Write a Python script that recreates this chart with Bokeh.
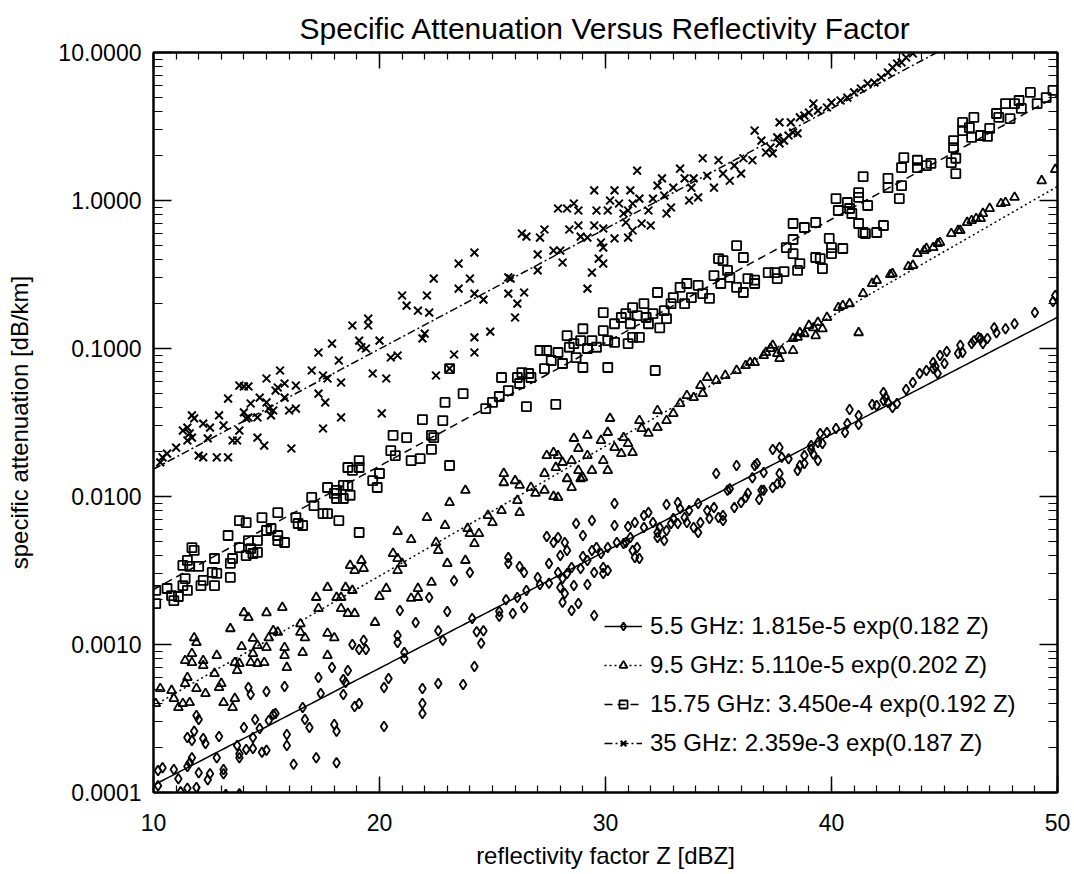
import numpy as np
from bokeh.plotting import figure
from bokeh.models import (Range1d, LinearAxis, LogAxis, FixedTicker,
                          PrintfTickFormatter, Legend, LegendItem,
                          CustomJSTickFormatter)
from bokeh.embed import file_html
from bokeh.resources import INLINE

# ---------------- data ----------------
title_text = "Specific Attenuation Versus Reflectivity Factor"
x_label = "reflectivity factor Z [dBZ]"
y_label = "specific attenuation [dB/km]"

series_names = ["5.5 GHz", "9.5 GHz", "15.75 GHz", "35 GHz"]
fit_a = [1.815e-5, 5.110e-5, 3.450e-4, 2.359e-3]
fit_b = [0.182, 0.202, 0.192, 0.187]
legend_labels = ["5.5 GHz: 1.815e-5 exp(0.182 Z)",
                 "9.5 GHz: 5.110e-5 exp(0.202 Z)",
                 "15.75 GHz: 3.450e-4 exp(0.192 Z)",
                 "35 GHz: 2.359e-3 exp(0.187 Z)"]

x_ticks = [10, 20, 30, 40, 50]
x_minor = [v for v in range(10, 51)]
y_ticks = [1e-4, 1e-3, 1e-2, 1e-1, 1.0, 10.0]
y_minor = [m * 10.0 ** e for e in range(-4, 1) for m in range(1, 10)]

# (Z [dBZ], attenuation [dB/km])
pts_55 = [(10.2,1.11e-4),(10.2,1.41e-4),(10.4,1.47e-4),(10.9,1.43e-4),(11.1,1.24e-4),(11.2,1.01e-4),(11.5,1.07e-4),(11.9,1.08e-4),(11.5,1.50e-4),(11.6,1.59e-4),(11.7,1.72e-4),(11.5,2.35e-4),(11.7,2.25e-4),(11.8,2.59e-4),(12.0,1.36e-4),(12.2,2.32e-4),(12.3,2.14e-4),(11.9,3.31e-4),(12.0,3.11e-4),(12.5,1.34e-4),(12.4,1.22e-4),(12.8,1.72e-4),(12.9,2.39e-4),(13.1,1.34e-4),(13.1,1.43e-4),(13.2,0.97e-4),(13.7,2.08e-4),(13.8,1.83e-4),(13.8,1.72e-4),(13.8,0.98e-4),(14.0,2.75e-4),(14.1,1.95e-4),(14.4,1.98e-4),(14.2,5.12e-4),(14.3,4.59e-4),(14.4,2.35e-4),(14.5,3.11e-4),(14.7,2.71e-4),(14.8,1.87e-4),(15.0,1.93e-4),(15.0,4.81e-4),(15.1,3.07e-4),(15.3,3.37e-4),(15.4,3.42e-4),(15.8,5.20e-4),(15.9,2.47e-4),(15.9,2.08e-4),(16.2,1.55e-4),(16.6,3.75e-4),(16.7,3.11e-4),(16.9,2.75e-4),(17.2,1.72e-4),(17.3,5.98e-4),(17.4,4.66e-4),(17.9,6.99e-4),(18.0,2.88e-4),(18.1,2.59e-4),(18.1,1.59e-4),(18.4,5.80e-4),(18.5,5.54e-4),(18.6,6.67e-4),(18.4,4.59e-4),(18.8,1.00e-3),(19.1,9.25e-4),(19.3,1.07e-3),(19.4,9.25e-4),(18.9,3.81e-4),(19.1,3.99e-4),(20.2,5.12e-4),(20.2,2.79e-4),(20.4,5.89e-4),(20.8,1.15e-3),(20.8,1.03e-3),(20.9,1.70e-3),(21.1,8.04e-4),(21.1,8.83e-4),(21.6,1.41e-3),(21.9,5.04e-4),(21.9,3.99e-4),(21.9,3.42e-4),(22.2,2.08e-3),(22.6,5.45e-4),(22.6,1.24e-3),(22.8,1.07e-3),(23.0,1.67e-3),
          (23.3,2.70e-3),(24.0,3.07e-3),(24.1,1.50e-3),(24.2,7.10e-4),(23.7,5.37e-4),(24.3,1.22e-3),(24.6,1.24e-3),(24.5,1.02e-3),(25.3,1.67e-3),(25.3,1.55e-3),(25.9,1.62e-3),(26.4,1.78e-3),(25.6,2.01e-3),(26.1,2.08e-3),(26.5,2.32e-3),(25.7,3.87e-3),(25.7,3.53e-3),(26.2,3.37e-3),(26.4,3.07e-3),(27.0,2.84e-3),(27.1,2.54e-3),(27.5,2.59e-3),(27.4,5.37e-3),(27.7,4.89e-3),(27.9,5.29e-3),(27.5,3.53e-3),(28.0,3.99e-3),(28.2,4.89e-3),(28.3,4.32e-3),(28.7,6.57e-3),(29.0,5.45e-3),(29.4,6.88e-3),(27.9,3.07e-3),(28.1,2.79e-3),(28.0,2.43e-3),(28.2,2.21e-3),(28.1,1.93e-3),(28.5,1.70e-3),(28.8,1.89e-3),(29.5,1.57e-3),(28.3,3.02e-3),(28.5,3.31e-3),(28.6,2.50e-3),(28.9,3.26e-3),(29.0,3.93e-3),(29.2,3.70e-3),(29.2,2.54e-3),(29.5,3.07e-3),(29.4,4.32e-3),(29.6,4.52e-3),(29.8,4.12e-3),(29.9,3.02e-3),(29.9,3.31e-3),(30.1,3.16e-3),(30.1,4.52e-3),(30.4,6.37e-3),(30.5,4.89e-3),(30.8,4.81e-3),(30.9,4.89e-3),(31.1,5.29e-3),(31.2,4.32e-3),(31.3,3.87e-3),(31.5,3.81e-3),(31.4,4.52e-3),(30.4,8.97e-3),(31.0,6.27e-3),(31.3,6.67e-3),(31.7,7.44e-3),(31.7,6.17e-3),(31.9,7.79e-3),(32.1,6.67e-3),(32.3,5.71e-3),(32.3,5.29e-3),(32.4,6.17e-3),(32.6,5.04e-3),(32.7,5.89e-3),(32.9,6.57e-3),(33.0,7.10e-3),(33.2,6.57e-3),(33.3,8.30e-3),(33.5,7.21e-3),(33.7,8.04e-3),(33.6,6.67e-3),(33.9,6.17e-3),(34.1,5.71e-3),(34.2,6.67e-3),(34.1,8.97e-3),(34.5,8.04e-3),(34.6,7.10e-3),(34.8,8.43e-3),(35.0,7.21e-3),(35.2,7.44e-3),(35.2,6.88e-3),(35.4,1.10e-2),(35.5,1.13e-2),(35.7,8.43e-3),(36.0,9.11e-3),(36.2,9.85e-3),(36.3,1.05e-2),(36.5,1.34e-2),(36.6,1.62e-2),(35.8,1.62e-2),(34.9,1.43e-2),(32.7,8.83e-3),(33.2,9.11e-3),
          (36.7,1.67e-2),(37.0,1.45e-2),(36.9,1.10e-2),(36.8,9.54e-3),(37.0,1.10e-2),(37.4,2.08e-2),(37.7,2.14e-2),(37.8,1.84e-2),(38.1,1.80e-2),(37.7,1.43e-2),(37.4,1.15e-2),(37.8,1.24e-2),(37.6,1.22e-2),(38.5,1.50e-2),(38.6,1.62e-2),(38.8,1.67e-2),(38.8,1.89e-2),(39.1,2.08e-2),(39.2,1.93e-2),(39.1,2.21e-2),(39.4,1.75e-2),(39.4,2.32e-2),(39.6,2.28e-2),(39.5,2.67e-2),(39.8,2.71e-2),(40.2,2.88e-2),(40.6,2.71e-2),(40.7,3.11e-2),(40.8,3.87e-2),(41.2,3.53e-2),(41.2,3.07e-2),(41.8,4.19e-2),(42.0,4.12e-2),(42.3,4.45e-2),(42.3,5.04e-2),(42.4,4.66e-2),(42.5,4.32e-2),(42.7,3.99e-2),(42.9,4.25e-2),(43.3,5.29e-2),(43.6,5.89e-2),(43.9,6.78e-2),(44.2,7.10e-2),(44.5,8.04e-2),(44.5,7.32e-2),(44.6,7.55e-2),(44.7,6.78e-2),(44.8,8.97e-2),(45.1,9.54e-2),(45.0,7.92e-2),(45.6,9.25e-2),(45.7,0.105),(45.8,9.40e-2),(46.2,0.108),(46.3,0.113),(46.5,0.119),(46.6,0.117),(46.7,0.108),(46.9,0.117),(47.2,0.138),(47.3,0.128),(47.7,0.136),(48.1,0.147),(49.0,0.175),(49.8,0.208),(49.9,0.228)]

pts_95 = [(10.3,5.04e-4),(10.1,3.99e-4),(10.8,4.89e-4),(10.9,4.32e-4),(11.1,3.75e-4),(11.3,3.99e-4),(11.6,4.05e-4),(11.4,5.45e-4),(11.5,5.98e-4),(11.9,5.04e-4),(11.4,7.79e-4),(11.7,7.55e-4),(11.7,8.69e-4),(12.2,7.79e-4),(12.2,7.21e-4),(12.3,4.66e-4),(11.8,1.11e-3),(11.9,1.03e-3),(12.7,6.37e-4),(12.8,8.43e-4),(12.9,5.12e-4),(13.0,5.45e-4),(13.1,4.05e-4),(13.5,3.75e-4),(13.6,4.32e-4),(13.4,1.28e-3),(13.6,7.55e-4),(13.7,6.67e-4),(13.8,7.44e-4),(13.9,9.69e-4),(14.0,1.64e-3),(14.2,1.52e-3),(14.3,7.55e-4),(14.4,1.10e-3),(14.4,8.69e-4),(14.6,9.85e-4),(14.6,7.44e-4),(14.9,7.55e-4),(15.0,9.54e-4),(15.0,1.64e-3),(15.1,1.11e-3),(15.3,1.24e-3),(15.5,1.21e-3),(15.7,1.78e-3),(15.8,9.54e-4),(15.8,8.43e-4),(15.9,6.99e-4),(16.5,1.38e-3),(16.5,1.21e-3),(16.7,1.11e-3),(16.6,8.83e-4),(17.2,2.08e-3),(17.3,1.75e-3),(17.7,8.43e-4),(17.7,1.19e-3),(18.0,1.11e-3),(17.7,2.43e-3),(18.1,2.08e-3),(18.3,2.08e-3),(18.3,1.75e-3),(18.5,2.43e-3),(18.6,1.62e-3),(18.8,2.32e-3),(18.9,1.62e-3),(18.7,3.42e-3),(18.9,3.16e-3),(19.2,3.70e-3),(19.3,3.26e-3),(19.8,1.41e-3),(20.0,2.11e-3),(20.3,2.39e-3),(20.8,5.80e-3),(20.6,4.12e-3),(20.8,3.81e-3),(20.8,3.16e-3),(21.0,3.53e-3),(21.4,5.12e-3),(21.7,2.39e-3),(21.7,2.08e-3),(21.4,2.05e-3),(22.3,2.63e-3),(22.1,7.21e-3),(22.5,4.89e-3),(22.6,4.32e-3),(22.9,6.37e-3),(23.0,3.53e-3),(23.1,9.11e-3),
          (23.8,3.70e-3),(23.8,1.10e-2),(23.9,6.08e-3),(24.0,5.62e-3),(24.2,4.81e-3),(24.4,5.62e-3),(24.8,7.44e-3),(25.0,6.67e-3),(25.4,8.04e-3),(25.5,1.43e-2),(25.5,1.24e-2),(26.0,1.28e-2),(26.2,1.19e-2),(26.1,9.40e-3),(26.2,7.79e-3),(26.7,1.15e-2),(26.9,1.05e-2),(27.3,1.10e-2),(27.3,1.43e-2),(27.4,1.89e-2),(27.7,1.98e-2),(27.8,1.57e-2),(27.7,1.00e-2),(27.9,9.85e-3),(27.9,1.89e-2),(28.1,1.70e-2),(28.3,1.32e-2),(28.5,1.15e-2),(28.5,1.75e-2),(28.8,1.50e-2),(28.9,1.32e-2),(29.0,1.34e-2),(28.6,2.47e-2),(28.8,2.11e-2),(29.2,1.89e-2),(29.2,2.59e-2),(29.4,1.50e-2),(29.8,2.39e-2),(29.9,1.75e-2),(30.1,1.50e-2),(30.1,2.71e-2),(30.2,3.37e-2),(30.4,2.14e-2),(30.7,1.95e-2),(30.8,2.50e-2),(31.0,2.28e-2),(31.2,1.98e-2),(31.5,3.26e-2),(31.6,2.88e-2),(31.9,2.67e-2),(32.3,2.92e-2),(32.3,3.81e-2),(32.7,3.26e-2),(33.0,3.64e-2),(33.3,4.25e-2),(33.6,4.81e-2),(33.9,4.66e-2),(34.3,4.96e-2),(34.2,5.62e-2),(34.5,6.37e-2),(34.9,6.08e-2),(35.3,6.57e-2),(35.8,7.10e-2),(36.2,7.67e-2),(36.4,8.04e-2),
          (36.6,8.04e-2),(37.0,8.97e-2),(37.1,9.40e-2),(37.3,0.100),(37.4,0.105),(37.6,9.25e-2),(37.7,8.56e-2),(37.8,9.69e-2),(38.3,9.69e-2),(38.3,0.117),(38.5,0.119),(38.6,0.128),(38.8,0.126),(39.0,0.143),(39.2,0.138),(39.3,0.122),(39.4,0.150),(39.6,0.136),(39.8,0.162),(40.3,0.189),(40.5,0.195),(40.8,0.201),(41.2,0.128),(41.4,0.235),(41.8,0.275),(42.0,0.288),(42.6,0.316),(42.7,0.320),(43.4,0.358),(43.6,0.364),(43.8,0.438),(44.1,0.459),(44.2,0.474),(44.5,0.481),(44.7,0.512),(44.8,0.520),(45.3,0.598),(45.6,0.627),(45.7,0.627),(46.0,0.710),(46.2,0.732),(46.4,0.755),(46.6,0.755),(46.7,0.817),(47.0,0.883),(47.5,0.954),(47.7,0.969),(48.1,1.05),(49.3,1.36),(49.9,1.62)]

pts_1575 = [(10.1,2.32e-3),(10.1,1.89e-3),(10.6,2.39e-3),(10.8,2.14e-3),(10.9,1.98e-3),(11.1,2.11e-3),(11.3,2.50e-3),(11.4,2.79e-3),(11.5,2.32e-3),(11.3,3.42e-3),(11.5,3.70e-3),(11.6,3.37e-3),(12.0,3.37e-3),(12.1,2.50e-3),(12.2,2.71e-3),(11.7,4.52e-3),(11.8,4.32e-3),(12.6,3.07e-3),(12.7,3.81e-3),(12.7,2.50e-3),(12.8,3.02e-3),(13.3,5.45e-3),(13.4,3.53e-3),(13.4,2.84e-3),(13.5,3.81e-3),(13.8,4.52e-3),(13.8,6.88e-3),(14.1,6.67e-3),(14.2,5.04e-3),(14.1,3.99e-3),(14.3,4.45e-3),(14.4,4.12e-3),(14.6,4.19e-3),(14.6,5.04e-3),(14.8,7.21e-3),(15.0,5.89e-3),(15.2,6.08e-3),(15.5,7.79e-3),(15.5,5.45e-3),(15.5,5.04e-3),(15.8,4.89e-3),(16.3,7.21e-3),(16.4,6.57e-3),(16.6,6.37e-3),(17.0,9.85e-3),(17.1,8.69e-3),(17.5,7.67e-3),(17.7,7.67e-3),(18.1,9.69e-3),(18.2,6.88e-3),(18.4,9.69e-3),(18.7,1.02e-2),(19.1,5.71e-3),
            (17.7,1.15e-2),(18.0,1.05e-2),(18.1,1.10e-2),(18.4,1.19e-2),(18.6,1.19e-2),(18.6,1.57e-2),(18.8,1.50e-2),(19.1,1.75e-2),(19.1,1.57e-2),(19.7,1.28e-2),(19.9,1.15e-2),(20.0,1.43e-2),(20.5,2.04e-2),(20.6,2.59e-2),(20.7,1.89e-2),(21.2,2.50e-2),(21.4,1.75e-2),(21.8,1.80e-2),(21.9,3.31e-2),(22.3,2.08e-2),(22.3,2.59e-2),(22.4,2.50e-2),(22.8,3.26e-2),(22.9,4.32e-2),(23.1,7.32e-2),(23.1,1.62e-2),
            (23.7,4.96e-2),(24.7,3.93e-2),(25.0,4.32e-2),(25.3,4.74e-2),(25.4,6.37e-2),(25.7,5.20e-2),(26.1,6.37e-2),(26.2,5.80e-2),(26.3,6.88e-2),(26.6,6.78e-2),(26.7,6.37e-2),(26.5,4.05e-2),(27.3,7.32e-2),(27.1,9.69e-2),(27.4,9.69e-2),(27.6,8.30e-2),(27.8,4.19e-2),(27.9,9.40e-2),(28.1,7.92e-2),(28.3,0.122),(28.4,0.102),(28.6,0.108),(28.7,8.69e-2),(28.9,0.113),(29.0,0.136),(29.0,7.44e-2),(29.2,0.100),(29.4,0.113),(29.6,0.102),(29.9,0.132),(29.9,0.175),(30.1,0.113),(30.1,7.44e-2),(30.4,0.147),(30.4,0.110),(30.7,0.162),(30.9,0.172),(31.0,0.108),(31.1,0.147),(31.2,0.119),(31.2,0.189),(31.5,0.119),(31.4,0.167),(31.7,0.201),(31.8,0.162),(31.9,0.147),(32.1,0.172),(32.2,7.10e-2),(32.3,0.239),(32.4,0.138),(32.6,0.180),(32.7,0.159),(32.9,0.201),(33.0,0.221),(33.3,0.259),(33.5,0.201),(33.6,0.275),(33.8,0.221),(34.1,0.267),(34.3,0.235),(34.6,0.218),(34.8,0.311),(35.0,0.405),(35.1,0.275),(35.2,0.393),(35.4,0.337),(35.5,0.302),(35.8,0.496),(35.8,0.259),(36.1,0.412),(36.1,0.239),(36.3,0.297),(36.6,0.275),
            (36.6,0.290),(37.2,0.326),(37.5,0.326),(37.6,0.297),(37.9,0.331),(38.0,0.481),(38.3,0.438),(38.3,0.545),(38.5,0.337),(38.6,0.375),(38.3,0.699),(38.8,0.657),(39.3,0.710),(39.3,0.412),(39.5,0.405),(39.6,0.347),(39.9,0.554),(40.0,0.481),(40.0,0.438),(40.5,0.474),(40.2,1.03),(40.3,0.856),(40.7,0.969),(40.8,0.883),(40.9,0.817),(41.2,1.05),(41.2,1.13),(41.2,0.699),(41.4,0.608),(41.5,0.598),(41.6,0.925),(41.4,1.45),(42.0,0.608),(42.3,0.678),(42.5,1.41),(42.5,1.22),(43.0,1.03),(43.1,1.67),(43.1,1.26),(43.2,1.95),(43.8,1.67),(43.8,1.87),(44.2,1.72),(44.4,1.78),(45.3,1.80),(45.4,2.28),(45.5,1.52),(45.5,1.93),(45.4,2.54),(45.8,2.97),(45.8,3.37),(46.1,3.11),(46.2,2.67),(46.3,3.64),(46.6,2.75),(46.9,2.71),(47.0,3.07),(47.3,3.87),(47.4,3.64),(47.7,4.52),(47.9,3.58),(48.1,4.52),(48.3,4.74),(48.4,4.19),(48.8,5.37),(49.1,4.52),(49.5,4.96),(49.8,5.54)]

pts_35 = [(10.4,1.84e-2),(10.6,1.95e-2),(11.0,2.14e-2),(10.3,1.70e-2),(11.3,2.79e-2),(11.5,2.92e-2),(11.6,2.67e-2),(11.7,3.53e-2),(11.8,3.37e-2),(11.5,2.39e-2),(11.7,2.50e-2),(12.0,1.89e-2),(12.2,1.84e-2),(12.2,3.11e-2),(12.5,2.92e-2),(12.4,2.47e-2),(12.8,1.84e-2),(12.9,3.53e-2),(13.1,3.02e-2),(13.3,1.84e-2),(13.3,4.59e-2),(13.5,2.39e-2),(13.7,2.39e-2),(13.8,2.79e-2),(14.0,3.70e-2),(14.1,3.37e-2),(14.2,3.42e-2),(14.3,4.25e-2),(13.8,5.62e-2),(14.0,5.54e-2),(14.2,5.54e-2),(14.6,2.50e-2),(14.6,3.42e-2),(14.7,4.66e-2),(14.9,2.21e-2),(15.0,4.32e-2),(15.0,6.27e-2),(15.1,3.93e-2),(15.2,3.53e-2),(15.3,3.81e-2),(15.4,5.20e-2),(15.5,5.45e-2),(15.6,7.10e-2),(15.8,5.80e-2),(15.8,4.66e-2),(16.0,3.81e-2),(16.1,2.11e-2),(16.3,3.93e-2),(16.3,5.62e-2),(17.0,7.10e-2),(17.3,4.96e-2),(17.3,9.40e-2),(17.5,6.57e-2),(17.5,2.88e-2),(17.6,4.32e-2),(17.7,6.27e-2),(17.9,0.108),(18.2,8.30e-2),(18.3,5.89e-2),(18.3,3.42e-2),(18.8,0.143),(19.1,0.113),(19.2,0.102),(19.4,0.100),(19.5,0.159),(19.5,0.143),(19.7,6.78e-2),(20.0,0.113),(20.1,3.64e-2),(20.3,6.27e-2),(20.5,8.69e-2),(20.8,8.97e-2),(21.0,0.228),(21.2,0.195),(21.7,0.180),(21.9,0.117),(22.0,0.126),(22.1,0.228),(22.2,0.175),(22.4,0.297),(22.5,6.57e-2),
          (23.1,7.32e-2),(23.3,9.11e-2),(24.2,0.119),(24.2,9.40e-2),(24.9,0.130),(26.0,0.162),(23.5,0.254),(24.0,0.297),(24.2,0.235),(24.6,0.214),(23.5,0.375),(24.2,0.445),(25.7,0.235),(26.1,0.201),(26.4,0.239),(25.7,0.302),(25.8,0.297),(26.3,0.598),(26.5,0.570),(27.1,0.562),(27.3,0.637),(27.0,0.337),(27.0,0.432),(27.7,0.459),(28.0,0.459),(28.1,0.381),(27.9,0.883),(28.3,0.883),(28.6,0.954),(28.8,0.856),(28.4,0.637),(28.8,0.678),(28.9,0.570),(29.2,0.562),(29.4,0.326),(29.2,0.254),(29.5,1.17),(29.5,0.678),(29.6,0.856),(29.7,0.405),(29.9,0.375),(29.8,0.520),(29.9,0.481),(29.9,0.647),(30.1,0.856),(30.2,1.00),(30.4,0.554),(30.4,1.17),(30.6,0.954),(30.8,0.817),(30.9,0.710),(31.0,0.856),(31.1,1.17),(31.2,0.954),(31.0,0.562),(31.2,0.627),(31.4,1.59),(31.5,1.03),(31.6,0.699),(31.9,0.856),(32.0,0.678),(32.1,1.03),(32.3,1.26),(32.5,1.41),(32.6,1.08),(32.7,0.817),(32.9,0.897),(33.0,1.22),(33.3,1.64),(33.5,1.41),(33.7,1.00),(33.8,1.22),(33.9,1.41),(34.1,1.05),(34.3,1.93),(34.5,1.47),(34.8,1.22),(35.0,1.87),(35.2,1.52),(35.5,1.36),(35.7,1.72),(36.0,1.52),(36.1,1.93),(36.5,1.87),(36.6,2.97),
          (36.9,2.54),(37.1,2.11),(37.3,2.28),(37.4,2.08),(37.6,2.67),(37.7,2.43),(37.9,2.54),(38.1,2.75),(38.2,3.37),(37.7,3.37),(38.3,2.88),(38.5,2.84),(38.6,3.64),(38.8,3.75),(39.0,3.93),(39.2,4.52),(39.4,4.05),(39.8,4.25),(40.0,4.59),(40.4,4.74),(40.7,4.96),(41.0,5.37),(41.3,5.71),(41.6,6.17),(41.9,6.27),(42.2,6.78),(42.5,7.32),(42.7,7.92),(42.9,8.43),(43.1,8.56),(43.3,9.25),(43.6,9.85)]

all_points = [pts_55, pts_95, pts_1575, pts_35]

# ---------------- styling ----------------
FONT = "Liberation Sans"
markers = ["diamond", "triangle", "square", "x"]
marker_sizes = [10, 9, 9, 11]
marker_widths = [1.8, 1.8, 1.8, 2.0]
dashes = ["solid", "2 3", "8 5", "8 3 2 3"]

p = figure(width=1074, height=874,
           x_range=Range1d(10, 50), y_range=Range1d(1e-4, 10),
           y_axis_type="log", output_backend="svg", toolbar_location=None,
           min_border_left=153, min_border_right=17,
           min_border_top=52, min_border_bottom=82,
           title=title_text)

p.background_fill_color = "white"
p.border_fill_color = "white"
p.outline_line_color = "black"
p.outline_line_width = 2
p.xgrid.visible = False
p.ygrid.visible = False

p.title.align = "center"
p.title.text_font = FONT
p.title.text_font_size = "30px"
p.title.text_font_style = "normal"
p.title.text_color = "black"
p.title.standoff = 16

blank = CustomJSTickFormatter(code="return '';")

def style_axis(ax, major_in, minor_in, show_labels):
    ax.axis_line_width = 2
    ax.axis_line_color = "black"
    ax.major_tick_in = major_in
    ax.major_tick_out = 0
    ax.minor_tick_in = minor_in
    ax.minor_tick_out = 0
    ax.major_tick_line_width = 1.5
    ax.minor_tick_line_width = 1.2
    ax.major_tick_line_color = "black"
    ax.minor_tick_line_color = "black"
    if show_labels:
        ax.major_label_text_font = FONT
        ax.major_label_text_font_size = "23px"
        ax.major_label_text_color = "black"
        ax.axis_label_text_font = FONT
        ax.axis_label_text_font_size = "24px"
        ax.axis_label_text_font_style = "normal"
        ax.axis_label_text_color = "black"
    else:
        ax.formatter = blank
        ax.major_label_text_font_size = "8px"
        ax.major_label_standoff = 0

xt = FixedTicker(ticks=x_ticks, minor_ticks=x_minor)
yt = FixedTicker(ticks=y_ticks, minor_ticks=y_minor)

xa = p.xaxis[0]
xa.ticker = xt
xa.axis_label = x_label
xa.major_label_standoff = 21
xa.axis_label_standoff = 8
style_axis(xa, 16, 7, True)

ya = p.yaxis[0]
ya.ticker = yt
ya.formatter = PrintfTickFormatter(format="%.4f")
ya.axis_label = y_label
ya.major_label_standoff = 12
ya.axis_label_standoff = 22
style_axis(ya, 18, 9, True)

top = LinearAxis(ticker=FixedTicker(ticks=x_ticks, minor_ticks=x_minor))
style_axis(top, 16, 7, False)
p.add_layout(top, "above")

right = LogAxis(ticker=FixedTicker(ticks=y_ticks, minor_ticks=y_minor))
style_axis(right, 18, 9, False)
p.add_layout(right, "right")

zfit = np.linspace(10, 50, 201)
items = []
for i in range(4):
    zs = [q[0] for q in all_points[i]]
    As = [q[1] for q in all_points[i]]
    afit = fit_a[i] * np.exp(fit_b[i] * zfit)
    lr = p.line(zfit, afit, line_color="black", line_width=1.5,
                line_dash=dashes[i])
    sr = p.scatter(zs, As, marker=markers[i], size=marker_sizes[i],
                   fill_color=None, line_color="black",
                   line_width=marker_widths[i])
    items.append(LegendItem(label=legend_labels[i], renderers=[lr, sr]))

legend = Legend(items=items, location=(451, 35),
                glyph_width=38, glyph_height=20, label_height=20,
                spacing=11, padding=0, margin=0, label_standoff=8,
                border_line_alpha=0, background_fill_alpha=0,
                label_text_font=FONT, label_text_font_size="24px",
                label_text_color="black")
p.add_layout(legend)

open("out.html", "w").write(file_html(p, INLINE))
